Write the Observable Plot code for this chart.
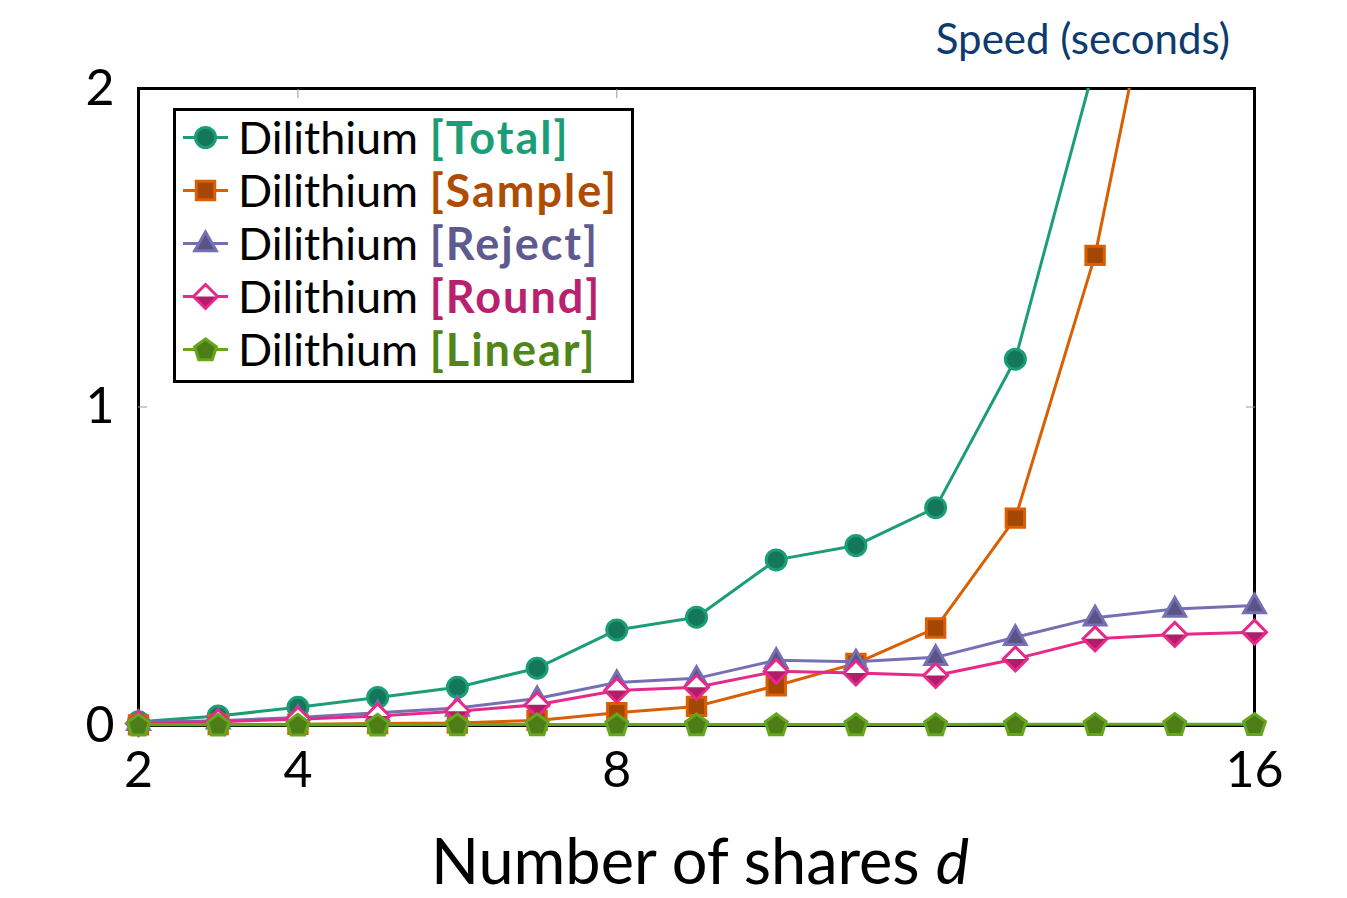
<!DOCTYPE html>
<html><head><meta charset="utf-8">
<script src="https://cdn.jsdelivr.net/npm/d3@7"></script>
<script src="https://cdn.jsdelivr.net/npm/@observablehq/plot@0.6"></script>
<style>
body{margin:0;background:#fff;font-family:Lato,"Open Sans",sans-serif}
#wrap{position:relative;width:1347px;height:898px;overflow:hidden}
#title{position:absolute;right:117px;top:17px;font-size:42px;line-height:1;color:#0d3b6e;white-space:nowrap}
#xlabel{position:absolute;left:700px;top:828px;transform:translateX(-50%);font-size:63px;line-height:1;color:#000;white-space:nowrap}
#legend{position:absolute;left:173px;top:108px;width:455px;height:269px;border:3px solid #000;background:#fff}
.row{position:relative;height:53px}
.row svg{position:absolute;left:0;top:0}
.row span{position:absolute;left:62px;top:50%;transform:translateY(-52%);font-size:45px;white-space:nowrap;line-height:1}
.row b{font-weight:700;letter-spacing:2px}
</style></head><body><div id="wrap"></div>
<script>
// ---- data ----
const shares = [2, 3, 4, 5, 6, 7, 8, 9, 10, 11, 12, 13, 14, 15, 16];
const seriesNames = ["Total", "Sample", "Reject", "Round", "Linear"];
const totalVals  = [0.012, 0.030, 0.057, 0.088, 0.120, 0.180, 0.300, 0.340, 0.520, 0.565, 0.684, 1.150, 2.080, 3.000, 4.200];
const sampleVals = [0.002, 0.003, 0.004, 0.006, 0.008, 0.016, 0.040, 0.060, 0.125, 0.195, 0.306, 0.651, 1.476, 2.700, 4.000];
const rejectVals = [0.010, 0.015, 0.025, 0.040, 0.055, 0.085, 0.135, 0.148, 0.205, 0.200, 0.214, 0.277, 0.338, 0.366, 0.377];
const roundVals  = [0.006, 0.012, 0.020, 0.030, 0.045, 0.065, 0.110, 0.120, 0.170, 0.165, 0.157, 0.209, 0.272, 0.286, 0.293];
const linearVals = [0.002, 0.002, 0.002, 0.002, 0.003, 0.003, 0.003, 0.003, 0.003, 0.003, 0.003, 0.004, 0.004, 0.004, 0.004];
const seriesColors = ["#1b9e77", "#d95f02", "#7570b3", "#e7298a", "#66a61e"];
const xTicks = [2, 4, 8, 16];
const yTicks = [0, 1, 2];
const innerXTicks = [4, 8];
const innerYTicks = [1];
const titleText = "Speed (seconds)";
const xLabelText = "Number of shares";
const xLabelVar = "d";
const legendPrefix = "Dilithium";

const allVals = [totalVals, sampleVals, rejectVals, roundVals, linearVals];

// ---- symbols ----
function rad(size) { return Math.sqrt(size / Math.PI); }
function poly(ctx, pts) { ctx.moveTo(pts[0][0], pts[0][1]); for (let i = 1; i < pts.length; i++) ctx.lineTo(pts[i][0], pts[i][1]); ctx.closePath(); }
const symCircle = { draw(ctx, size) { const r = rad(size); ctx.moveTo(r, 0); ctx.arc(0, 0, r, 0, 2 * Math.PI); } };
const symSquare = { draw(ctx, size) { const s = rad(size) * 0.92; ctx.rect(-s, -s, 2 * s, 2 * s); } };
const symTriangle = { draw(ctx, size) { const r = rad(size) * 1.25; poly(ctx, [90, 210, 330].map(a => [r * Math.cos(a * Math.PI / 180), -r * Math.sin(a * Math.PI / 180) + r * 0.08])); } };
const symPentagon = { draw(ctx, size) { const r = rad(size) * 1.15; poly(ctx, [90, 162, 234, 306, 18].map(a => [r * Math.cos(a * Math.PI / 180), -r * Math.sin(a * Math.PI / 180) + r * 0.08])); } };
const symDiamond = { draw(ctx, size) { const r = rad(size) * 1.2; poly(ctx, [[0, -r], [r, 0], [0, r], [-r, 0]]); } };
const symDiamondLow = { draw(ctx, size) { const r = rad(size) * 1.2; poly(ctx, [[-r, 0], [r, 0], [0, r]]); } };

const symbols = [symCircle, symSquare, symTriangle, symDiamond, symPentagon];
const darken = (c, k) => d3.interpolateRgb(c, "#000")(k);

// ---- table ----
const rows = [];
seriesNames.forEach((s, i) => shares.forEach((d, j) => rows.push({series: s, d, v: allVals[i][j]})));

const yMax = yTicks[yTicks.length - 1];
const R = 10;
const marks = [Plot.frame({stroke: "#000", strokeWidth: 3})];
seriesNames.forEach((s, i) => {
  const data = rows.filter(r => r.series === s);
  const col = seriesColors[i];
  const dark = darken(col, 0.25);
  marks.push(Plot.line(data, {x: "d", y: "v", stroke: col, strokeWidth: 3, clip: i < 2}));
  const vis = data.filter(r => r.v <= yMax);
  if (s === "Round") {
    marks.push(Plot.dot(vis, {x: "d", y: "v", symbol: symDiamond, r: R, fill: "#fff", stroke: "none"}));
    marks.push(Plot.dot(vis, {x: "d", y: "v", symbol: symDiamondLow, r: R, fill: dark, stroke: "none"}));
    marks.push(Plot.dot(vis, {x: "d", y: "v", symbol: symDiamond, r: R, fill: "none", stroke: col, strokeWidth: 3}));
  } else {
    marks.push(Plot.dot(vis, {x: "d", y: "v", symbol: symbols[i], r: R, fill: dark, stroke: col, strokeWidth: 3}));
  }
});
marks.push(Plot.axisX(xTicks, {anchor: "bottom", tickSize: 0, tickPadding: 26, fontSize: 50, tickFormat: d3.format("d"), label: null}));
marks.push(Plot.axisY(yTicks, {anchor: "left", tickSize: 0, tickPadding: 24, fontSize: 50, tickFormat: d3.format("d"), label: null}));

const chart = Plot.plot({
  width: 1347, height: 898,
  marginLeft: 138, marginRight: 93, marginTop: 88, marginBottom: 173,
  style: {fontFamily: "Lato, 'Open Sans', sans-serif", color: "#000", background: "#fff"},
  x: {domain: [shares[0], shares[shares.length - 1]], axis: null},
  y: {domain: [yTicks[0], yMax], axis: null},
  marks: [
    ...marks,
    Plot.axisY(innerYTicks, {anchor: "left", tickSize: 9, insetLeft: 9, tickFormat: () => "", stroke: "#999", label: null}),
    Plot.axisY(innerYTicks, {anchor: "right", tickSize: 9, insetRight: 9, tickFormat: () => "", stroke: "#999", label: null}),
    Plot.axisX(innerXTicks, {anchor: "top", tickSize: 9, insetTop: 9, tickFormat: () => "", stroke: "#999", label: null})
  ]
});

const wrap = document.getElementById("wrap");
wrap.appendChild(chart);

const t = document.createElement("div"); t.id = "title"; t.textContent = titleText; wrap.appendChild(t);
const xl = document.createElement("div"); xl.id = "xlabel";
xl.innerHTML = xLabelText + " <i>" + xLabelVar + "</i>"; wrap.appendChild(xl);

// legend
const lg = document.createElement("div"); lg.id = "legend";
seriesNames.forEach((s, i) => {
  const col = seriesColors[i];
  const dark = darken(col, 0.25);
  const textCol = i === 0 ? col : darken(col, 0.2);
  const row = document.createElement("div"); row.className = "row";
  const size = R * R * Math.PI;
  const p = d3.path(); symbols[i].draw(p, size);
  let markerSvg;
  if (s === "Round") {
    const pl = d3.path(); symDiamondLow.draw(pl, size);
    markerSvg = `<path d="${p}" fill="#fff"/><path d="${pl}" fill="${dark}"/><path d="${p}" fill="none" stroke="${col}" stroke-width="3"/>`;
  } else {
    markerSvg = `<path d="${p}" fill="${dark}" stroke="${col}" stroke-width="3"/>`;
  }
  row.innerHTML = `<svg width="60" height="53"><line x1="7" x2="52" y1="26.5" y2="26.5" stroke="${col}" stroke-width="3"/><g transform="translate(29.5,26.5)">${markerSvg}</g></svg><span>${legendPrefix} <b style="color:${textCol}">[${s}]</b></span>`;
  lg.appendChild(row);
});
wrap.appendChild(lg);
</script></body></html>
